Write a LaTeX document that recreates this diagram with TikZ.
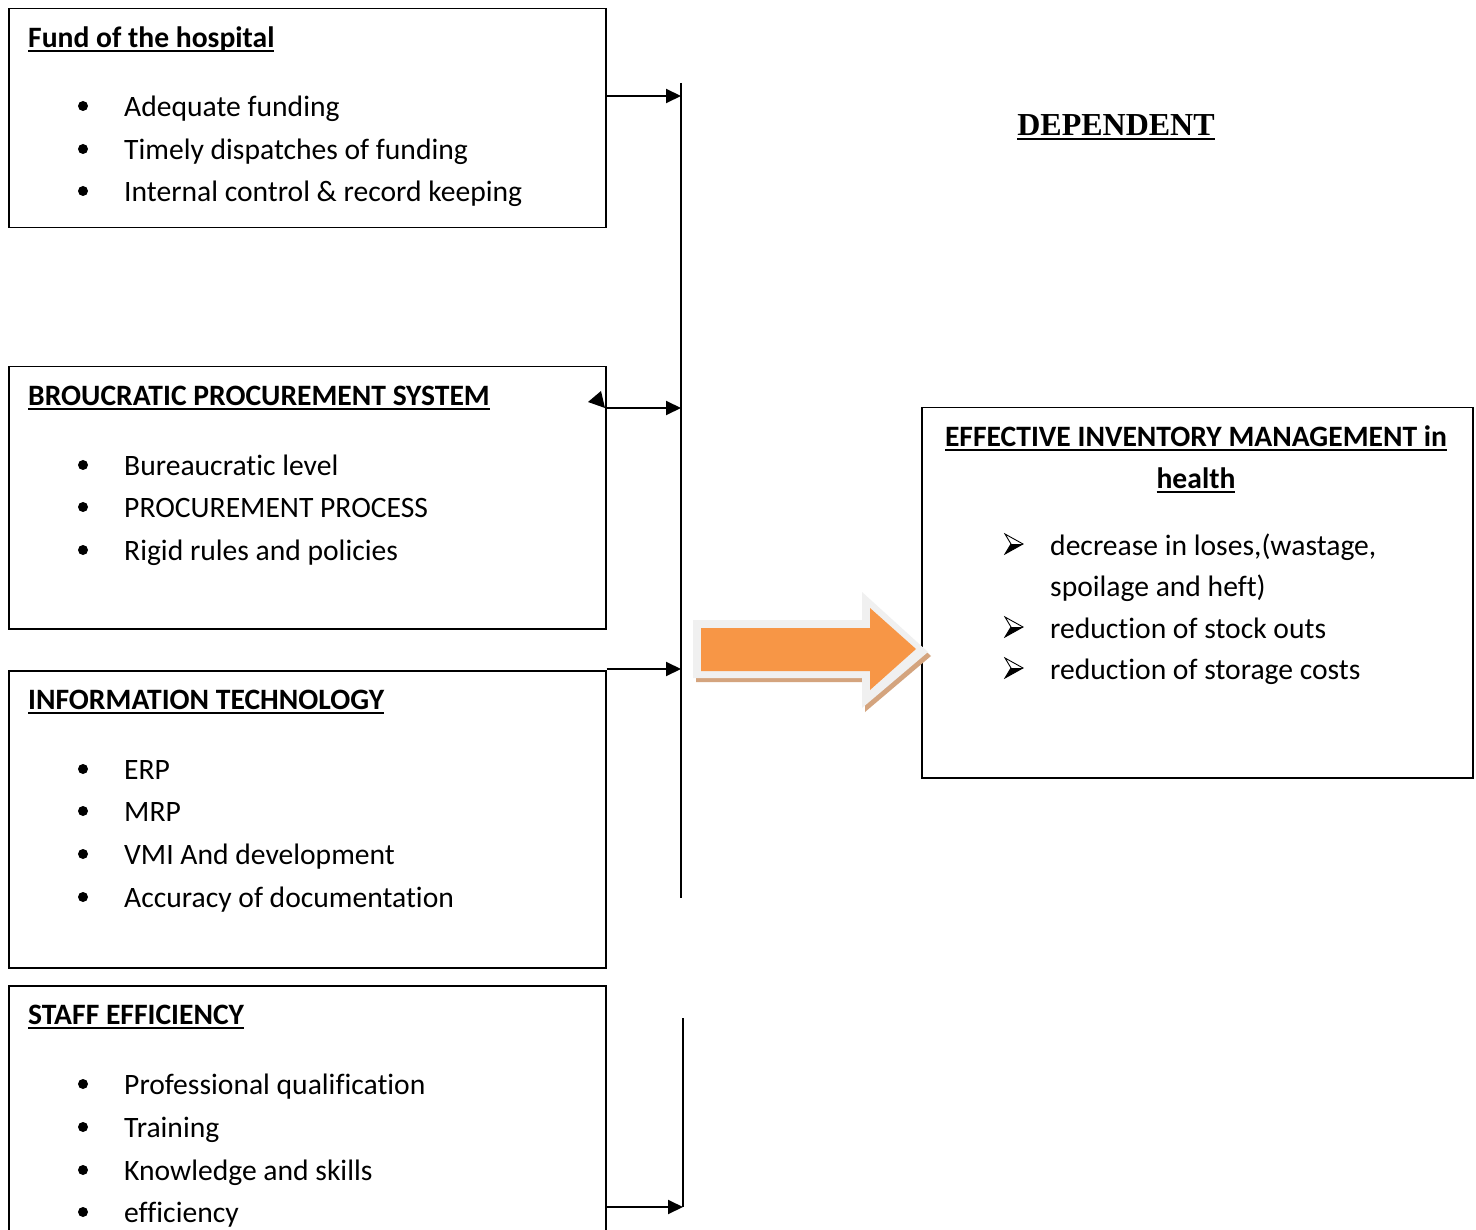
\documentclass[tikz,border=0pt]{standalone}
\usepackage{fontspec}
\setmainfont{Carlito}[Ligatures=NoCommon]
\newfontfamily\serifb{Liberation Serif}
\newcommand\ulx[1]{\setbox0\hbox{#1}\rlap{\rule[-5pt]{\wd0}{2.4pt}}\box0}
\usetikzlibrary{arrows.meta}
\definecolor{orng}{HTML}{F79646}
\definecolor{lgrey}{HTML}{F0F0F0}
\definecolor{tan}{HTML}{D4A47E}
\begin{document}
\begin{tikzpicture}[x=1pt,y=-1pt,
  box/.style={draw, line width=1.5pt, anchor=north west, inner sep=0pt},
  txt/.style={anchor=mid west, inner sep=0pt, font=\fontsize{29.6}{35}\selectfont},
  ttl/.style={anchor=mid west, inner sep=0pt, font=\fontsize{29.6}{35}\selectfont\bfseries},
  arr/.style={line width=2pt, -{Triangle[length=15pt,width=14pt]}},
  vline/.style={line width=2pt}
]
\clip (0,0) rectangle (1476,1230);
\fill[white] (0,0) rectangle (1476,1230);

% boxes
\node[box, minimum width=597pt, minimum height=219pt] (b1) at (8,8) {};
\node[box, minimum width=597pt, minimum height=262pt] (b2) at (8,366) {};
\node[box, minimum width=597pt, minimum height=297pt] (b3) at (8,670) {};
\node[box, minimum width=597pt, minimum height=300pt] (b4) at (8,985) {};
\node[box, minimum width=551pt, minimum height=370pt] (r) at (921,407) {};

% box 1
\node[ttl] (t1) at (28,45) {\ulx{Fund of the hospital}};
\node[txt] (t1a) at (124,114) {Adequate funding};
\node[txt] (t1b) at (124,157) {Timely dispatches of funding};
\node[txt] (t1c) at (124,199) {Internal control \& record keeping};
\foreach \y in {106,149,191} \fill (83,\y) circle (5pt);

% box 2
\node[ttl] (t2) at (28,403) {\ulx{BROUCRATIC PROCUREMENT SYSTEM}};
\node[txt] (t2a) at (124,473) {Bureaucratic level};
\node[txt] (t2b) at (124,515) {PROCUREMENT PROCESS};
\node[txt] (t2c) at (124,558) {Rigid rules and policies};
\foreach \y in {465,507,550} \fill (83,\y) circle (5pt);

% box 3
\node[ttl] (t3) at (28,707) {\ulx{INFORMATION TECHNOLOGY}};
\node[txt] (t3a) at (124,777) {ERP};
\node[txt] (t3b) at (124,819) {MRP};
\node[txt] (t3c) at (124,862) {VMI And development};
\node[txt] (t3d) at (124,905) {Accuracy of documentation};
\foreach \y in {769,811,854,897} \fill (83,\y) circle (5pt);

% box 4
\node[ttl] (t4) at (28,1022) {\ulx{STAFF EFFICIENCY}};
\node[txt] (t4a) at (124,1092) {Professional qualification};
\node[txt] (t4b) at (124,1135) {Training};
\node[txt] (t4c) at (124,1178) {Knowledge and skills};
\node[txt] (t4d) at (124,1220) {efficiency};
\foreach \y in {1084,1127,1170,1212} \fill (83,\y) circle (5pt);

% right box
\node[anchor=mid, inner sep=0pt, font=\fontsize{29.6}{35}\selectfont\bfseries] (rt1) at (1196,444) {\ulx{EFFECTIVE INVENTORY MANAGEMENT in}};
\node[anchor=mid, inner sep=0pt, font=\fontsize{29.6}{35}\selectfont\bfseries] (rt2) at (1196,486) {\ulx{health}};
\node[txt] (ra) at (1050,553) {decrease in loses,(wastage,};
\node[txt] (rb) at (1050,594) {spoilage and heft)};
\node[txt] (rc) at (1050,636) {reduction of stock outs};
\node[txt] (rd) at (1050,677) {reduction of storage costs};
\foreach \y in {544,627,668}{
  \draw[line width=0.9pt, line join=miter] (1005,\y-10) -- (1023,\y) -- (1005,\y+10) -- (1011,\y) -- cycle;
  \fill (1011,\y) -- (1023,\y) -- (1005,\y+10) -- cycle;
}

% DEPENDENT
\node[anchor=mid, inner sep=0pt, font=\serifb\fontsize{32}{38}\selectfont\bfseries] (dep) at (1116,133) {\ulx{DEPENDENT}};

% connectors
\coordinate (v1) at (681,96);
\coordinate (v2) at (681,408);
\coordinate (v3) at (681,669);
\coordinate (vtop) at (681,83);
\coordinate (vbot) at (681,898);
\coordinate (w1) at (683,1018);
\coordinate (w2) at (683,1207);
\draw[vline] (vtop) -- (vbot);
\draw[vline] (w1) -- (w2);
\draw[arr] (b1.east |- v1) -- (v1);
\draw[arr] (b2.east |- v2) -- (v2);
\draw[arr] (b3.north east |- v3) -- (v3);
\draw[arr] (605,1207) -- (w2);
\fill (588,402) -- (601,391) -- (605,408) -- cycle;

% block arrow
\fill[tan] (696,624) -- (865,624) -- (865,596) -- (931,656) -- (865,712) -- (865,682) -- (696,682) -- cycle;
\fill[lgrey] (693,620) -- (862,620) -- (862,592) -- (928,652) -- (862,708) -- (862,678) -- (693,678) -- cycle;
\fill[orng] (701,628) -- (870,628) -- (870,608) -- (916,649) -- (870,690) -- (870,671) -- (701,671) -- cycle;
\end{tikzpicture}
\end{document}
